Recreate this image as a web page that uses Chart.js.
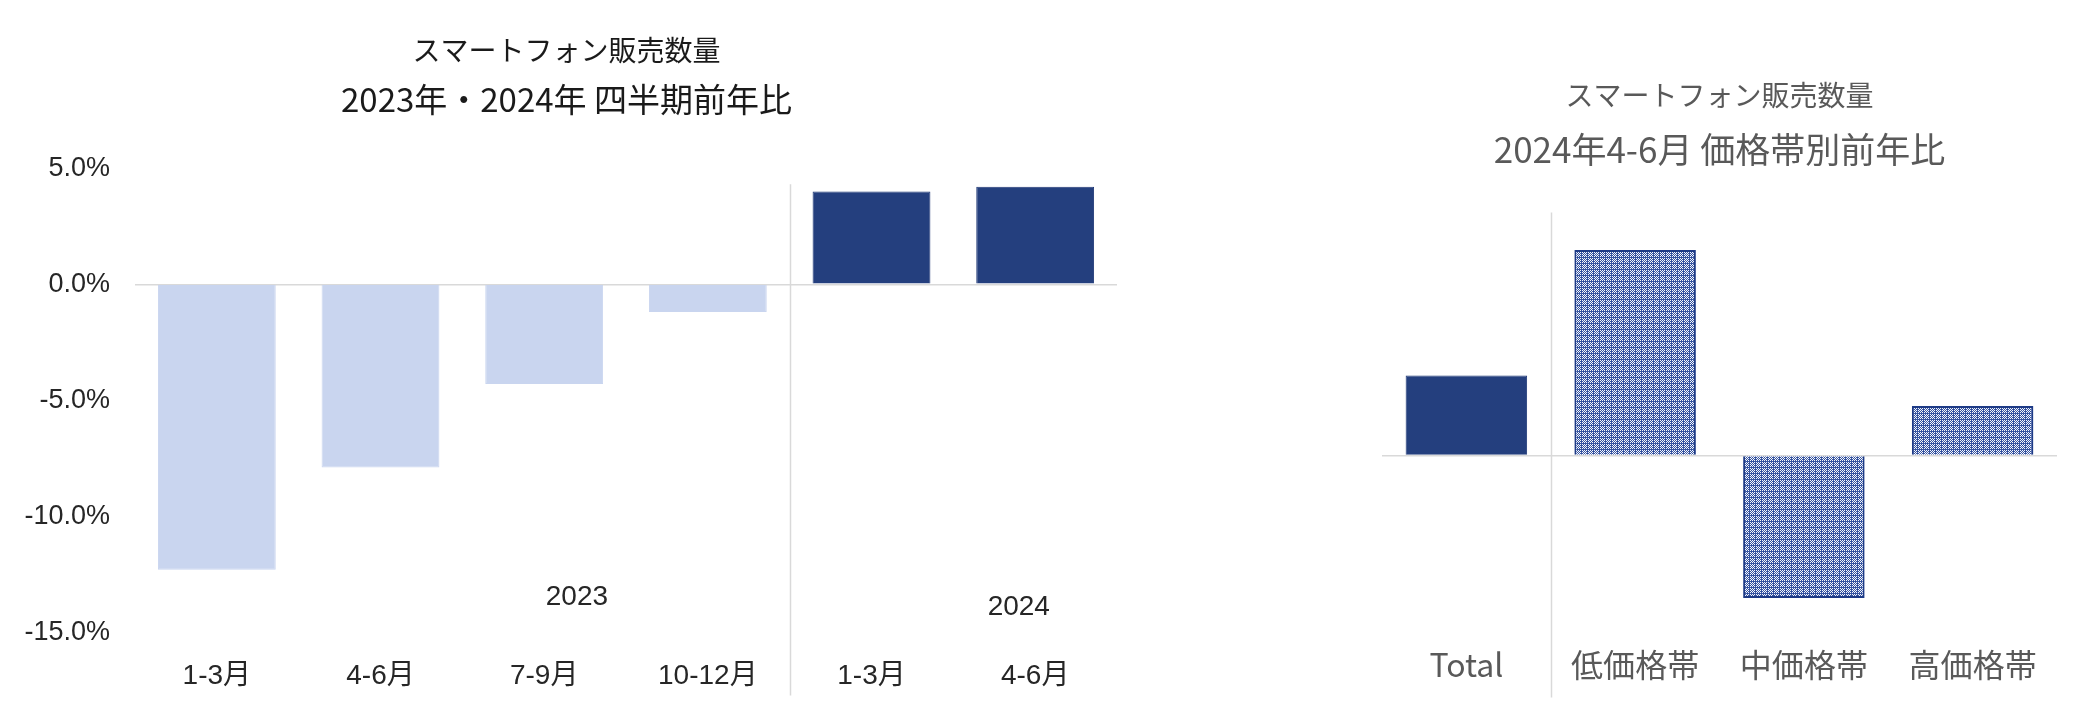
<!DOCTYPE html>
<html>
<head>
<meta charset="utf-8">
<script src="https://cdn.jsdelivr.net/npm/chart.js@4"></script>
<style>
  body { margin: 0; background: #fff; width: 2093px; height: 720px; position: relative; overflow: hidden; }
  .box { position: absolute; top: 0; height: 720px; }
  #left { left: 0; width: 1154px; }
  #right { left: 1300px; width: 793px; }
</style>
</head>
<body>
<div class="box" id="left"><canvas id="quarterChart"></canvas></div>
<div class="box" id="right"><canvas id="priceChart"></canvas></div>
<script>
// 四半期前年比 (%)
const quarterLabels = ['1-3月', '4-6月', '7-9月', '10-12月', '1-3月', '4-6月'];
const quarterValues = [-12.3, -7.9, -4.3, -1.2, 4.0, 4.2];
const yearNames = ['2023', '2024'];
const yearSizes = [4, 2];
const quarterTicks = [5, 0, -5, -10, -15];

// 2024年4-6月 価格帯別前年比 (%)
const priceLabels = ['Total', '低価格帯', '中価格帯', '高価格帯'];
const priceValues = [4.2, 10.8, -7.5, 2.6];

const NAVY = '#243f7e';
const LIGHT = '#c9d5ef';
const JP = "'Noto Sans CJK JP', 'Liberation Sans', sans-serif";
const LATIN = "'Liberation Sans', 'Noto Sans CJK JP', sans-serif";

function makePattern() {
  const c = document.createElement('canvas');
  c.width = 12; c.height = 12;
  const g = c.getContext('2d');
  for (let y = 0; y < 12; y++) {
    for (let x = 0; x < 12; x++) {
      let dark = (x + y) % 2 === 1;
      if (x % 6 === 5 || y % 6 === 5) dark = true;
      g.fillStyle = dark ? '#3553a0' : '#f5f7fc';
      g.fillRect(x, y, 1, 1);
    }
  }
  return g.createPattern(c, 'repeat');
}

// 区切り線とグループ名
const dividerPlugin = {
  id: 'divider',
  afterDatasetsDraw(chart, args, opts) {
    const { ctx, chartArea } = chart;
    const xs = chart.scales.x;
    const half = (xs.getPixelForValue(1) - xs.getPixelForValue(0)) / 2;
    const x = Math.round(xs.getPixelForValue(opts.after) + half) + 0.5;
    ctx.save();
    ctx.strokeStyle = '#d9d9d9';
    ctx.lineWidth = 1.5;
    ctx.beginPath();
    ctx.moveTo(x, chartArea.top + opts.top);
    ctx.lineTo(x, chartArea.bottom + opts.bottom);
    ctx.stroke();
    if (opts.groups) {
      ctx.fillStyle = '#262626';
      ctx.font = '28px ' + LATIN;
      ctx.textAlign = 'center';
      ctx.textBaseline = 'middle';
      const ys = chart.scales.y;
      opts.groups.forEach(gr => {
        ctx.fillText(gr.name, xs.getPixelForValue(gr.at), ys.getPixelForValue(gr.y));
      });
    }
    ctx.restore();
  }
};

const zeroGrid = ctx => ctx.tick && ctx.tick.value === 0 ? '#d9d9d9' : 'rgba(0,0,0,0)';

let start = 0;
const groups = yearNames.map((name, i) => {
  const g = { name: name, at: i === 0 ? start + 2.2 : start + 0.9, y: i === 0 ? -13.5 : -13.9 };
  start += yearSizes[i];
  return g;
});

new Chart(document.getElementById('quarterChart'), {
  type: 'bar',
  data: {
    labels: quarterLabels,
    datasets: [{
      data: quarterValues,
      backgroundColor: quarterValues.map((v, i) => i < yearSizes[0] ? LIGHT : NAVY),
      borderColor: quarterValues.map((v, i) => i < yearSizes[0] ? LIGHT : '#1f3876'),
      borderWidth: 1,
      categoryPercentage: 1,
      barPercentage: 0.72
    }]
  },
  options: {
    responsive: true,
    maintainAspectRatio: false,
    animation: false,
    layout: { padding: { left: 16, right: 37, bottom: 8 } },
    plugins: {
      legend: { display: false },
      tooltip: { enabled: false },
      title: {
        display: true,
        text: 'スマートフォン販売数量',
        color: '#1a1a1a',
        font: { family: JP, size: 28, weight: 'normal', lineHeight: 1.2 },
        padding: { top: 34, bottom: 0 }
      },
      subtitle: {
        display: true,
        text: '2023年・2024年 四半期前年比',
        color: '#1a1a1a',
        font: { family: JP, size: 33, weight: 'normal', lineHeight: 1.2 },
        padding: { top: 12, bottom: 49 }
      },
      divider: { after: yearSizes[0] - 1, top: 16, bottom: 63, groups: groups }
    },
    scales: {
      x: {
        grid: { display: false },
        border: { display: false },
        ticks: { color: '#262626', font: { family: LATIN, size: 28 }, padding: 19, maxRotation: 0 }
      },
      y: {
        min: quarterTicks[quarterTicks.length - 1],
        max: quarterTicks[0],
        afterBuildTicks: axis => { axis.ticks = quarterTicks.map(v => ({ value: v })); },
        afterFit: axis => { axis.width = 119; },
        grid: { color: zeroGrid, lineWidth: 1.5, drawTicks: false },
        border: { display: false },
        ticks: {
          color: '#262626',
          font: { family: LATIN, size: 27 },
          padding: 25,
          callback: v => v.toFixed(1) + '%'
        }
      }
    }
  },
  plugins: [dividerPlugin]
});

const pattern = makePattern();

new Chart(document.getElementById('priceChart'), {
  type: 'bar',
  data: {
    labels: priceLabels,
    datasets: [{
      data: priceValues,
      backgroundColor: priceValues.map((v, i) => i === 0 ? NAVY : pattern),
      borderColor: priceValues.map((v, i) => i === 0 ? '#1f3876' : '#1d3a86'),
      borderWidth: priceValues.map((v, i) => i === 0 ? 1 : 2),
      categoryPercentage: 1,
      barPercentage: 0.72
    }]
  },
  options: {
    responsive: true,
    maintainAspectRatio: false,
    animation: false,
    layout: { padding: { left: 82, right: 36, bottom: 36 } },
    plugins: {
      legend: { display: false },
      tooltip: { enabled: false },
      title: {
        display: true,
        text: 'スマートフォン販売数量',
        color: '#595959',
        font: { family: JP, size: 28, weight: 'normal', lineHeight: 1.2 },
        padding: { top: 79, bottom: 0 }
      },
      subtitle: {
        display: true,
        text: '2024年4-6月 価格帯別前年比',
        color: '#595959',
        font: { family: JP, size: 35, weight: 'normal', lineHeight: 1.2 },
        padding: { top: 16, bottom: 47 }
      },
      divider: { after: 0, top: -5, bottom: 52 }
    },
    scales: {
      x: {
        grid: { display: false, drawTicks: false },
        border: { display: false },
        ticks: { color: '#595959', font: { family: JP, size: 32 }, padding: 0, maxRotation: 0 }
      },
      y: {
        min: -10,
        max: 12.5,
        grid: { color: zeroGrid, lineWidth: 1.5, drawTicks: false },
        border: { display: false },
        ticks: { display: false }
      }
    }
  },
  plugins: [dividerPlugin]
});
</script>
</body>
</html>
